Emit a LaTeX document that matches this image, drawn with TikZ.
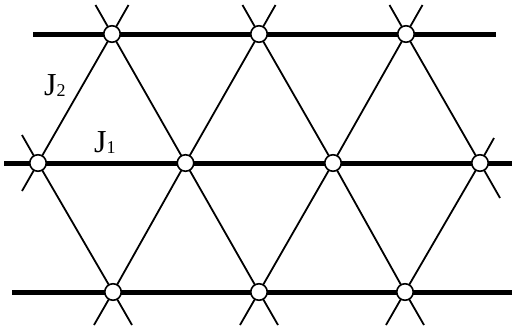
\documentclass[tikz,border=0pt]{standalone}
\usepackage{fontspec}
\setmainfont{Liberation Serif}
\begin{document}
\begin{tikzpicture}[x=1pt,y=-1pt,
  chain/.style={line width=5pt},
  bond/.style={line width=1.8pt},
  site/.style={circle,draw,fill=white,line width=1.6pt,minimum size=16.5pt,inner sep=0pt},
  lbl/.style={inner sep=0pt,anchor=base west,font=\fontsize{32}{32}\selectfont}]
\useasboundingbox (0,0) rectangle (512,335);
% lattice points
\coordinate (t1) at (112,34);
\coordinate (t2) at (259,34);
\coordinate (t3) at (406,34);
\coordinate (m1) at (38,163);
\coordinate (m2) at (185.5,163);
\coordinate (m3) at (333,163);
\coordinate (m4) at (480,163);
\coordinate (b1) at (113,292);
\coordinate (b2) at (259,292);
\coordinate (b3) at (405,292);
% line ends
\coordinate (tl) at (33,34);   \coordinate (tr) at (496,34);
\coordinate (ml) at (4,163);   \coordinate (mr) at (512,163);
\coordinate (bl) at (12,292);  \coordinate (br) at (512,292);
% stub ends
\coordinate (s1) at (95.5,5);  \coordinate (s2) at (128.5,5);
\coordinate (s3) at (242.5,5); \coordinate (s4) at (275.5,5);
\coordinate (s5) at (389.5,5); \coordinate (s6) at (422.5,5);
\coordinate (s7) at (22,135);  \coordinate (s8) at (22,191);
\coordinate (s9) at (494,138); \coordinate (s10) at (500,198);
\coordinate (s11) at (94,325); \coordinate (s12) at (132,325);
\coordinate (s13) at (240,325);\coordinate (s14) at (278,325);
\coordinate (s15) at (386,325);\coordinate (s16) at (424,325);
% thick chains
\draw[chain] (tl) -- (tr);
\draw[chain] (ml) -- (mr);
\draw[chain] (bl) -- (br);
% diagonal bonds (/)
\draw[bond] (s8) -- (m1) -- (t1) -- (s2);
\draw[bond] (s11) -- (b1) -- (m2) -- (t2) -- (s4);
\draw[bond] (s13) -- (b2) -- (m3) -- (t3) -- (s6);
\draw[bond] (s15) -- (b3) -- (m4) -- (s9);
% diagonal bonds (\)
\draw[bond] (s7) -- (m1) -- (b1) -- (s12);
\draw[bond] (s1) -- (t1) -- (m2) -- (b2) -- (s14);
\draw[bond] (s3) -- (t2) -- (m3) -- (b3) -- (s16);
\draw[bond] (s5) -- (t3) -- (m4) -- (s10);
% sites
\foreach \p in {t1,t2,t3,m1,m2,m3,m4,b1,b2,b3}
  \node[site] (n\p) at (\p) {};
% labels
\node[lbl] (J2) at (44,95) {J{\fontsize{18}{18}\selectfont\raisebox{-1pt}{2}}};
\node[lbl] (J1) at (94,152) {J{\fontsize{18}{18}\selectfont\raisebox{-1pt}{1}}};
\end{tikzpicture}
\end{document}
